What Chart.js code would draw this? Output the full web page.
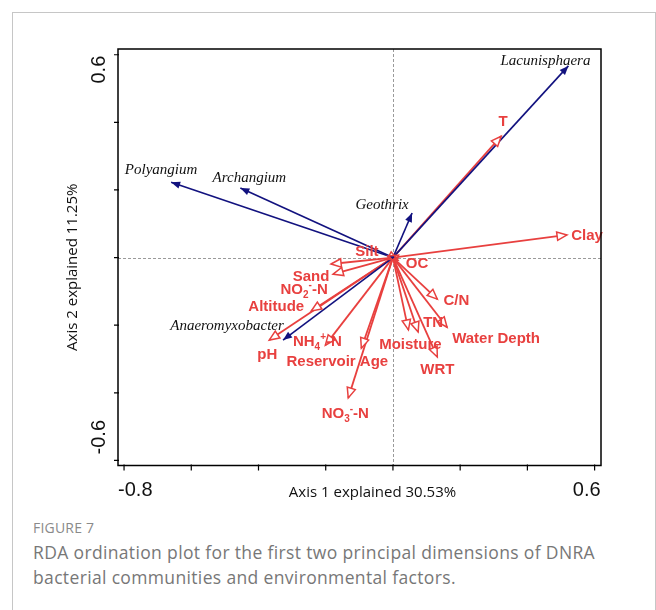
<!DOCTYPE html>
<html>
<head>
<meta charset="utf-8">
<script src="https://cdn.jsdelivr.net/npm/chart.js@4.4.0/dist/chart.umd.min.js"></script>
<style>
  body { margin: 0; background: #fff; width: 656px; height: 610px; overflow: hidden; position: relative; }
  .frame { position: absolute; left: 12px; top: 12px; width: 644px; height: 640px; border: 1px solid #c6c6c6; box-sizing: border-box; }
  #wrap { position: absolute; left: 0; top: 0; width: 656px; height: 500px; }
  .fig-no { position: absolute; left: 33px; top: 518px; font: 14px "Open Sans", sans-serif; color: #8a8a8a; letter-spacing: 0.2px; }
  .fig-text { position: absolute; left: 33px; top: 540px; width: 615px; font: 17.5px "Open Sans", sans-serif; line-height: 25px; color: #777; letter-spacing: 0.35px; white-space: nowrap; }
</style>
</head>
<body>
<div class="frame"></div>
<div id="wrap"><canvas id="rda" width="656" height="500"></canvas></div>
<div class="fig-no">FIGURE 7</div>
<div class="fig-text">RDA ordination plot for the first two principal dimensions of DNRA<br>bacterial communities and environmental factors.</div>
<script>
// Arten (blaue Pfeile)
const speciesNames = ['Lacunisphaera', 'Polyangium', 'Archangium', 'Geothrix', 'Anaeromyxobacter'];
const speciesAxis1 = [0.522, -0.660, -0.454, 0.057, -0.327];
const speciesAxis2 = [0.567, 0.223, 0.206, 0.132, -0.244];

// Umweltfaktoren (rote Pfeile)
const envNames = ['T', 'Clay', 'Silt', 'OC', 'Sand', 'NO2--N', 'Altitude', 'pH', 'NH4+-N',
                  'Reservoir Age', 'NO3--N', 'Moisture', 'TN', 'WRT', 'Water Depth', 'C/N'];
const envAxis1 = [0.322, 0.518, -0.015, 0.015, -0.184, -0.178, -0.243, -0.368, -0.201,
                  -0.094, -0.133, 0.046, 0.075, 0.132, 0.161, 0.132];
const envAxis2 = [0.359, 0.067, 0.005, -0.008, -0.019, -0.049, -0.158, -0.244, -0.259,
                  -0.268, -0.415, -0.214, -0.220, -0.294, -0.206, -0.123];

// Achsen
const xTicks = [-0.8, -0.6, -0.4, -0.2, 0, 0.2, 0.4, 0.6];
const yTicks = [-0.6, -0.4, -0.2, 0, 0.2, 0.4, 0.6];
const xTickLabels = ['-0.8', '0.6'];
const yTickLabels = ['-0.6', '0.6'];
const xTitle = 'Axis 1 explained 30.53%';
const yTitle = 'Axis 2 explained 11.25%';

// Beschriftungs-Versatz in Pixel (Textmitte relativ zur Pfeilspitze)
const speciesLabelOffset = [[-23, -5], [-10, -12], [9, -10], [-30, -8], [-56, -14]];
const envLabelOffset = [[2, -14], [20, 1], [-21, -4], [19, 4], [-20, 13], [-29, 16], [-35, -4], [-2, 15],
                        [-8, -3], [-24, 14], [-3, 16], [2, 15], [15, -9], [0, 13], [49, 12], [19, 2]];

// Hoch-/Tiefstellung: 1 = tief, -1 = hoch
const richLabels = {
    'NO2--N': [['NO', 0], ['2', 1], ['-', -1], ['-N', 0]],
    'NO3--N': [['NO', 0], ['3', 1], ['-', -1], ['-N', 0]],
    'NH4+-N': [['NH', 0], ['4', 1], ['+', -1], ['-N', 0]]
};

const RED = '#e8403f';
const BLUE = '#12127f';

function vectorDataset(x, y, color, width) {
    return {
        data: [{ x: 0, y: 0 }, { x: x, y: y }],
        showLine: true,
        borderColor: color,
        borderWidth: width,
        pointRadius: 0,
        fill: false
    };
}

const datasets = [];
speciesAxis1.forEach((v, i) => datasets.push(vectorDataset(v, speciesAxis2[i], BLUE, 1.6)));
envAxis1.forEach((v, i) => datasets.push(vectorDataset(v, envAxis2[i], RED, 1.8)));

function arrowHead(ctx, x0, y0, x1, y1, len, half, filled, color) {
    const a = Math.atan2(y1 - y0, x1 - x0);
    const bx = x1 - len * Math.cos(a), by = y1 - len * Math.sin(a);
    const px = -Math.sin(a) * half, py = Math.cos(a) * half;
    ctx.beginPath();
    ctx.moveTo(x1, y1);
    ctx.lineTo(bx + px, by + py);
    ctx.lineTo(bx - px, by - py);
    ctx.closePath();
    if (filled) {
        ctx.fillStyle = color;
        ctx.fill();
    } else {
        ctx.fillStyle = '#fff';
        if (Math.hypot(x1 - x0, y1 - y0) > 20) ctx.fill();
        ctx.strokeStyle = color;
        ctx.lineWidth = 1.5;
        ctx.stroke();
    }
}

function drawRich(ctx, name, cx, cy, size) {
    const parts = richLabels[name] || [[name, 0]];
    const small = Math.round(size * 0.68);
    let w = 0;
    parts.forEach(p => {
        ctx.font = 'bold ' + (p[1] ? small : size) + 'px "Liberation Sans", Arial, sans-serif';
        w += ctx.measureText(p[0]).width;
    });
    let x = cx - w / 2;
    ctx.textAlign = 'left';
    ctx.textBaseline = 'middle';
    parts.forEach(p => {
        ctx.font = 'bold ' + (p[1] ? small : size) + 'px "Liberation Sans", Arial, sans-serif';
        const dy = p[1] === 1 ? 5 : (p[1] === -1 ? -5 : 0);
        ctx.fillText(p[0], x, cy + dy);
        x += ctx.measureText(p[0]).width;
    });
}

const rdaDecor = {
    id: 'rdaDecor',
    beforeDatasetsDraw(chart) {
        const { ctx, chartArea: a, scales: { x, y } } = chart;
        ctx.save();
        ctx.strokeStyle = '#9a9a9a';
        ctx.lineWidth = 1;
        ctx.setLineDash([3, 2]);
        const x0 = Math.round(x.getPixelForValue(0)) + 0.5;
        const y0 = Math.round(y.getPixelForValue(0)) + 0.5;
        ctx.beginPath();
        ctx.moveTo(x0, a.top); ctx.lineTo(x0, a.bottom);
        ctx.moveTo(a.left, y0); ctx.lineTo(a.right, y0);
        ctx.stroke();
        ctx.restore();
    },
    afterDatasetsDraw(chart) {
        const ctx = chart.ctx;
        ctx.save();
        // rote Pfeilspitzen und Beschriftungen
        envNames.forEach((name, i) => {
            const pts = chart.getDatasetMeta(speciesNames.length + i).data;
            arrowHead(ctx, pts[0].x, pts[0].y, pts[1].x, pts[1].y, 10, 4.2, false, RED);
        });
        // blaue Pfeilspitzen
        speciesNames.forEach((name, i) => {
            const pts = chart.getDatasetMeta(i).data;
            arrowHead(ctx, pts[0].x, pts[0].y, pts[1].x, pts[1].y, 9, 3.6, true, BLUE);
        });
        ctx.fillStyle = RED;
        envNames.forEach((name, i) => {
            const p = chart.getDatasetMeta(speciesNames.length + i).data[1];
            drawRich(ctx, name, p.x + envLabelOffset[i][0], p.y + envLabelOffset[i][1], 15);
        });
        ctx.fillStyle = '#111';
        ctx.font = 'italic 15px "Liberation Serif", "Times New Roman", serif';
        ctx.textAlign = 'center';
        ctx.textBaseline = 'middle';
        speciesNames.forEach((name, i) => {
            const p = chart.getDatasetMeta(i).data[1];
            ctx.fillText(name, p.x + speciesLabelOffset[i][0], p.y + speciesLabelOffset[i][1]);
        });
        ctx.restore();
    },
    afterDraw(chart) {
        const { ctx, chartArea: a, scales: { x, y } } = chart;
        ctx.save();
        ctx.strokeStyle = '#000';
        ctx.lineWidth = 1.5;
        ctx.strokeRect(a.left, a.top, a.right - a.left, a.bottom - a.top);
        ctx.beginPath();
        xTicks.forEach(v => {
            const px = x.getPixelForValue(v);
            ctx.moveTo(px, a.bottom - 1); ctx.lineTo(px, a.bottom + 5);
        });
        yTicks.forEach(v => {
            const py = y.getPixelForValue(v);
            ctx.moveTo(a.left + 1, py); ctx.lineTo(a.left - 4, py);
        });
        ctx.lineWidth = 1.2;
        ctx.stroke();

        ctx.fillStyle = '#111';
        ctx.font = '20px "Liberation Sans", Arial, sans-serif';
        ctx.textBaseline = 'middle';
        ctx.textAlign = 'left';
        ctx.fillText(xTickLabels[0], x.getPixelForValue(xTicks[0]) - 6, a.bottom + 25);
        ctx.textAlign = 'right';
        ctx.fillText(xTickLabels[1], x.getPixelForValue(xTicks[xTicks.length - 1]) + 6, a.bottom + 25);

        // y-Beschriftungen gedreht
        const ylx = a.left - 19;
        ctx.save();
        ctx.translate(ylx, y.getPixelForValue(yTicks[yTicks.length - 1]));
        ctx.rotate(-Math.PI / 2);
        ctx.textAlign = 'right';
        ctx.fillText(yTickLabels[1], -1, 0);
        ctx.restore();
        ctx.save();
        ctx.translate(ylx, y.getPixelForValue(yTicks[0]));
        ctx.rotate(-Math.PI / 2);
        ctx.textAlign = 'left';
        ctx.fillText(yTickLabels[0], 6, 0);
        ctx.restore();

        ctx.font = '15px "Open Sans", sans-serif';
        ctx.textAlign = 'center';
        ctx.fillText(xTitle, (a.left + a.right) / 2 + 13, a.bottom + 27);
        ctx.save();
        ctx.translate(a.left - 45, (a.top + a.bottom) / 2 + 10);
        ctx.rotate(-Math.PI / 2);
        ctx.fillText(yTitle, 0, 0);
        ctx.restore();
        ctx.restore();
    }
};

new Chart(document.getElementById('rda'), {
    type: 'scatter',
    data: { datasets: datasets },
    options: {
        responsive: false,
        animation: false,
        devicePixelRatio: 1,
        events: [],
        layout: { padding: { left: 118, top: 49, right: 55, bottom: 34.5 } },
        plugins: { legend: { display: false }, tooltip: { enabled: false } },
        scales: {
            x: { type: 'linear', min: -0.818, max: 0.619, display: false },
            y: { type: 'linear', min: -0.615, max: 0.617, display: false }
        }
    },
    plugins: [rdaDecor]
});
</script>
</body>
</html>
